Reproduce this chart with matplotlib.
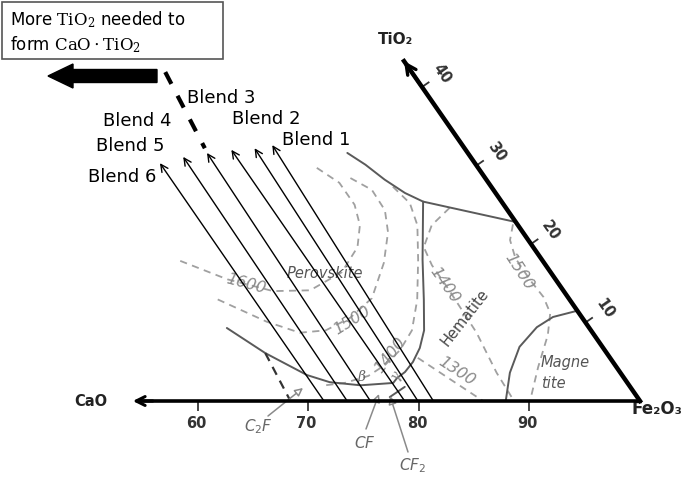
import numpy as np
import matplotlib
matplotlib.use("Agg")
import matplotlib.pyplot as plt
from matplotlib.patches import Rectangle, FancyArrow

plt.rcParams['font.family'] = ['DejaVu Sans']
plt.rcParams['mathtext.fontset'] = 'dejavuserif'

# ---- ternary frame (a = bottom-axis value, t = TiO2 wt%) ----
X100, SX, TX, TY, Y0 = 640.0, 11.05, 5.45, 7.85, 401.0


def tern(a, t):
    a = np.asarray(a, float)
    t = np.asarray(t, float)
    return X100 - (100 - a) * SX - TX * t, Y0 - TY * t


base_ticks = [60, 70, 80, 90]
tio2_ticks = [10, 20, 30, 40]
a_min, t_max = 54.1, 43.3

# ---- phase boundaries (solid) ----
top_a = [89.1, 90.0, 90.8, 91.8, 92.9, 100.0]
top_t = [31.6, 30.1, 28.2, 26.5, 25.4, 22.8]
vert_a = [92.9, 89.2, 86.8, 84.9, 83.4, 81.9, 80.55, 79.46]
vert_t = [25.4, 18.0, 12.9, 9.0, 6.75, 4.97, 3.69, 2.93]
low_a = [67.2, 69.1, 71.5, 73.1, 75.7, 78.8, 79.46]
low_t = [9.3, 6.1, 3.3, 2.4, 2.0, 2.3, 2.93]
cf2_a = [77.6, 79.6]
cf2_t = [0.5, 1.8]
mag_a = [87.85, 90.0, 92.5, 95.3, 97.4, 100.0]
mag_t = [0.0, 3.6, 6.9, 9.4, 10.7, 11.5]

# ---- isotherms (dashed) ----
iso = {
    '1600': ([85.4, 86.5, 86.5, 85.7, 84.1, 81.1, 77.1, 73.7, 70.3, 67.0],
             [29.7, 27.8, 25.0, 22.4, 19.6, 16.4, 14.1, 14.0, 15.5, 18.0]),
    '1500a': ([87.8, 89.0, 88.9, 87.8, 85.5, 82.2, 79.0, 76.0, 73.5, 71.2, 68.1],
              [28.4, 26.9, 24.3, 21.5, 17.6, 13.1, 10.6, 9.0, 8.7, 10.1, 13.0]),
    '1400a': ([91.1, 91.6, 90.9, 88.8, 86.2, 83.8, 81.5, 79.2, 77.0, 74.4, 72.5],
              [27.3, 25.2, 22.4, 18.0, 12.9, 9.0, 6.5, 4.6, 3.2, 2.3, 2.0]),
    '1400b': ([94.9, 92.2, 90.1, 89.7, 89.7, 89.6, 89.5, 88.8, 88.6],
              [24.6, 22.4, 19.6, 17.3, 14.5, 11.6, 8.7, 3.6, 0.0]),
    '1500b': ([99.6, 98.35, 97.7, 97.65, 97.8, 97.4, 95.8, 92.9, 90.05],
              [22.5, 20.5, 18.2, 15.4, 13.25, 11.2, 8.4, 4.3, 0.0]),
    '1300': ([82.6, 85.8], [5.5, 0.0]),
}

# ---- blends: base on CaO axis and arrow tip ----
blend_names = ['Blend 1', 'Blend 2', 'Blend 3', 'Blend 4', 'Blend 5', 'Blend 6']
blend_base = [81.3, 79.9, 78.7, 75.6, 73.5, 71.4]
blend_tip_a = [82.8, 81.0, 78.8, 76.4, 74.0, 71.5]
blend_tip_t = [32.6, 32.2, 32.0, 31.6, 31.1, 30.3]
blend_label_xy = [(282, 140), (232, 119), (187, 98), (103, 121), (96, 146), (88, 177)]

fig = plt.figure(figsize=(6.85, 4.8), dpi=100)
ax = fig.add_axes([0, 0, 1, 1])
ax.set_xlim(0, 685)
ax.set_ylim(480, 0)
ax.axis('off')

# isotherms
for key, (a, t) in iso.items():
    x, y = tern(a, t)
    ax.plot(x, y, color='#a0a0a0', lw=1.3, ls=(0, (4, 3)), zorder=1)

# phase boundaries
for a, t in [(top_a, top_t), (vert_a, vert_t), (low_a, low_t),
             (cf2_a, cf2_t), (mag_a, mag_t)]:
    x, y = tern(a, t)
    ax.plot(x, y, color='#5a5a5a', lw=1.4, zorder=2, solid_capstyle='round')

# axes of the diagram
x0, y0 = tern(a_min, 0)
x1, y1 = tern(100, 0)
ax.plot([x0 + 4, x1], [y0, y1], color='k', lw=2.6, zorder=4, solid_capstyle='butt')
ax.annotate('', xy=(x0, y0), xytext=(x0 + 20, y0),
            arrowprops=dict(arrowstyle='->', lw=2.2, color='k', mutation_scale=16,
                            shrinkA=0, shrinkB=0), zorder=4)
xt, yt = tern(100, t_max)
ax.plot([x1, xt], [y1, yt], color='k', lw=3.2, zorder=4, solid_capstyle='projecting')
ax.annotate('', xy=(xt, yt), xytext=tern(100, t_max - 3),
            arrowprops=dict(arrowstyle='->', lw=2.4, color='k', mutation_scale=18,
                            shrinkA=0, shrinkB=0), zorder=4)

for v in base_ticks:
    bx, by = tern(v, 0)
    ax.plot([bx, bx], [by + 1, by + 9], color='#444444', lw=1.4, zorder=3)
    ax.text(bx - 2, by + 22, str(v), ha='center', va='center', fontsize=10.5,
            fontweight='bold', color='#333333')

d = np.array([-TX, -TY]) / np.hypot(TX, TY)
nrm = np.array([abs(d[1]), -abs(d[0])])  # outward (up-right on screen)
for v in tio2_ticks:
    px, py = tern(100, v)
    ax.plot([px, px + 8 * nrm[0]], [py, py + 8 * nrm[1]], color='#333333', lw=1.3, zorder=3)
    ax.text(px + 24 * nrm[0], py + 24 * nrm[1], str(v), ha='center', va='center',
            rotation=-55, fontsize=10.5, fontweight='bold', color='#333333')

ax.text(91, 402, 'CaO', ha='center', va='center', fontsize=10.5, fontweight='bold', color='#222222')
ax.text(396, 40, 'TiO₂', ha='center', va='center', fontsize=11, fontweight='bold', color='#222222')
ax.text(657, 409, 'Fe₂O₃', ha='center', va='center', fontsize=12, fontweight='bold', color='#222222')

# blend arrows
for name, b, ta, tt, (lx, ly) in zip(blend_names, blend_base, blend_tip_a,
                                     blend_tip_t, blend_label_xy):
    sx, sy = tern(b, 0)
    ex, ey = tern(ta, tt)
    ax.annotate('', xy=(ex, ey), xytext=(sx, sy),
                arrowprops=dict(arrowstyle='->', lw=1.0, color='k', mutation_scale=13,
                                shrinkA=0, shrinkB=0), zorder=5)
    ax.text(lx, ly, name, ha='left', va='center', fontsize=13, color='k', zorder=6)

# dashed connectors
dx_, dy_ = tern([77.7, 76.5], [41.9, 32.2])
ax.plot(dx_, dy_, color='k', lw=3.0, ls=(0, (3.2, 3.2)), zorder=5)
cx_, cy_ = tern([69.1, 68.4], [6.1, 0.3])
ax.plot(cx_, cy_, color='#333333', lw=1.6, ls=(0, (4, 3)), zorder=3)

# big arrow and note box
ax.add_patch(FancyArrow(157, 76, -84, 0, width=13, head_width=24, head_length=25,
                        length_includes_head=False, color='k', zorder=5))
ax.add_patch(Rectangle((2, 2), 221, 57, fill=False, ec='#555555', lw=1.2, zorder=5))
ax.text(10, 20, r'More $\mathrm{TiO_2}$ needed to', fontsize=12, va='center', ha='left')
ax.text(10, 45, r'form $\mathrm{CaO\cdot TiO_2}$', fontsize=12, va='center', ha='left')

# isotherm labels
iso_lab = [('1600', 246, 284, -15), ('1500', 352, 320, 32), ('1400', 390, 355, 52),
           ('1400', 445, 285, -55), ('1500', 519, 272, -57), ('1300', 457, 371, -33)]
for s, x, y, r in iso_lab:
    ax.text(x, y, s, ha='center', va='center', rotation=r, fontsize=11.5,
            style='italic', color='#8a8a8a', zorder=2)

# phase labels
ax.text(325, 274, 'Perovskite', ha='center', va='center', fontsize=10.5,
        style='italic', color='#555555', zorder=3)
ax.text(465, 318, 'Hematite', ha='center', va='center', fontsize=10.5,
        rotation=52, color='#444444', zorder=3)
ax.text(541, 362, 'Magne', ha='left', va='center', fontsize=10.5,
        style='italic', color='#555555', zorder=3)
ax.text(541, 384, 'tite', ha='left', va='center', fontsize=10.5,
        style='italic', color='#555555', zorder=3)
ax.text(362, 377, r'$\beta$', ha='center', va='center', fontsize=10, color='#666666')
ax.text(398, 377, r'$\gamma$', ha='center', va='center', fontsize=10, rotation=60,
        color='#888888')

# compound pointers
for s, (lx, ly), (tx, ty), (hx, hy) in [
        ('$C_2F$', (258, 427), (268, 416), (303, 388)),
        ('$CF$', (365, 443), (366, 429), (379, 394)),
        ('$CF_2$', (413, 466), (408, 452), (390, 396))]:
    ax.annotate('', xy=(hx, hy), xytext=(tx, ty),
                arrowprops=dict(arrowstyle='-|>', lw=1.1, color='#8a8a8a', fc='white',
                                mutation_scale=12, shrinkA=0, shrinkB=0), zorder=3)
    ax.text(lx, ly, s, ha='center', va='center', fontsize=11, color='#666666',
            math_fontfamily='dejavusans')

fig.savefig('out.png', dpi=100)
